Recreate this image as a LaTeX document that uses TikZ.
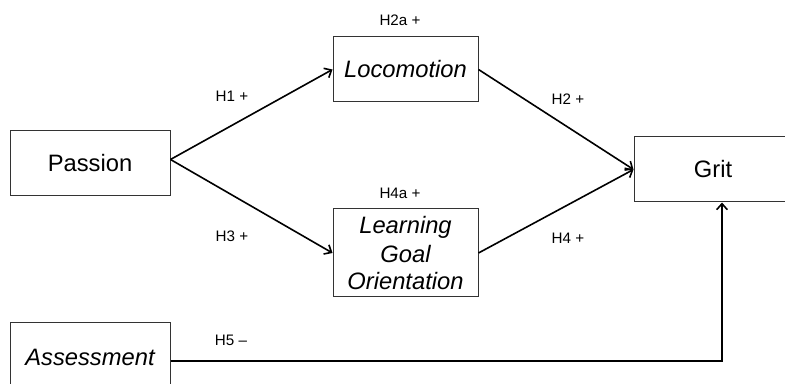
\documentclass[tikz,border=0pt]{standalone}
\usepackage{fontspec}
\setmainfont{Liberation Sans}
\usetikzlibrary{positioning,arrows.meta}

\tikzset{
	>={Straight Barb[length=4.5pt, width=8pt]},
	construct/.style={draw=black!80, line width=0.75pt, align=center, inner sep=0pt,
		font=\fontsize{17.8}{18.8}\selectfont},
	path/.style={->, line width=1.2pt},
	hyp/.style={font=\fontsize{11.4}{13}\selectfont}
}

\begin{document}
\begin{tikzpicture}[x=0.75pt, y=-0.75pt]

	\useasboundingbox (0,0) rectangle (785,384);

	% boxes
	\node [construct, minimum width=120pt, minimum height=48.75pt] (passion) at (90, 163.5) {Passion};
	\node [construct, minimum width=108.75pt, minimum height=48.75pt] (loco) at (405.5, 69.5) {\itshape Locomotion};
	\node [construct, minimum width=108.75pt, minimum height=66pt] (lgo) at (405.5, 253) {\itshape Learning\\[2.5pt] \itshape Goal\\[1.5pt] \itshape Orientation};
	\node [construct, minimum width=118.5pt, minimum height=48.75pt] (grit) at (713, 169.5) {Grit};
	\node [construct, minimum width=120pt, minimum height=51pt] (assess) at (90, 357) {\itshape Assessment};

	% paths
	\draw [path] ([yshift=3pt]passion.east) -- (loco.west);
	\draw [path] ([yshift=3pt]passion.east) -- (lgo.west);
	\draw [path] (loco.east) -- (grit.west);
	\draw [path] (lgo.east) -- (grit.west);
	\draw [path] ([yshift=-3pt]assess.east) -| ([xshift=6.75pt]grit.south);

	% hypotheses
	\node [hyp] (h1) at (232, 96) {H1 +};
	\node [hyp] (h2a) at (400, 20) {H2a +};
	\node [hyp] (h2) at (568, 99) {H2 +};
	\node [hyp] (h3) at (232, 236) {H3 +};
	\node [hyp] (h4a) at (400, 193) {H4a +};
	\node [hyp] (h4) at (568, 238) {H4 +};
	\node [hyp] (h5) at (231, 340) {H5 --};

\end{tikzpicture}
\end{document}
